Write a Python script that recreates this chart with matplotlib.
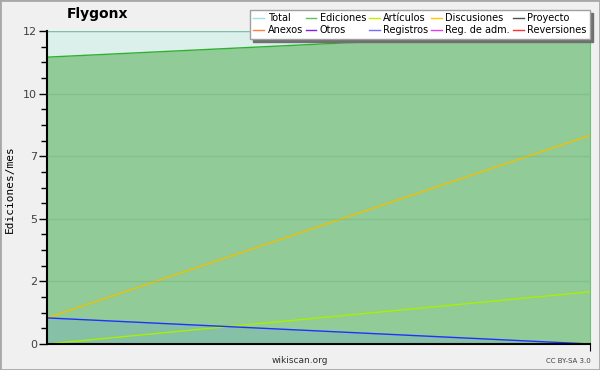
import matplotlib
matplotlib.use("Agg")
import matplotlib.pyplot as plt
from matplotlib.lines import Line2D
from matplotlib.patches import Rectangle

# two monthly points
x = [0, 1]
total = [12, 12]
ediciones = [11, 12]
articulos = [0, 2]
discusiones = [1, 8]
registros = [1, 0]

legend_names = ["Total", "Ediciones", "Artículos", "Discusiones", "Proyecto",
                "Anexos", "Otros", "Registros", "Reg. de adm.", "Reversiones"]
legend_colors = ["#9fe0e0", "#60c060", "#c0f000", "#ffc800", "#505050",
                 "#ff7f40", "#8020e0", "#7070ff", "#e040f0", "#ff3030"]

y_ticks = [0, 2.4, 4.8, 7.2, 9.6, 12]
y_labels = ["0", "2", "5", "7", "10", "12"]

fig = plt.figure(figsize=(6, 3.7), dpi=100, facecolor="#f0f0f0")
fig.patches.append(Rectangle((0, 0), 1, 1, transform=fig.transFigure,
                             fill=False, edgecolor="#a8a8a8", linewidth=2))
ax = fig.add_axes([0.0783, 0.0703, 0.905, 0.8457])
ax.set_facecolor("#f0f0f0")

ax.fill_between(x, 0, total, color="#dbf0ea", linewidth=0)
ax.plot(x, total, color="#80cccc", linewidth=1)
ax.fill_between(x, 0, ediciones, color="#90cb98", linewidth=0)
ax.plot(x, ediciones, color="#30b030", linewidth=1)
ax.fill_between(x, 0, registros, color="#86c0a6", linewidth=0)
ax.plot(x, discusiones, color="#f0c000", linewidth=1)
ax.plot(x, articulos, color="#a8f000", linewidth=1)
ax.plot(x, registros, color="#2030ff", linewidth=1)

ax.set_xlim(0, 1)
ax.set_ylim(0, 12)
ax.set_yticks(y_ticks)
ax.set_yticklabels(y_labels, fontsize=8, color="#404040")
ax.set_yticks([i * 0.6 for i in range(21)], minor=True)
ax.tick_params(axis="y", which="major", length=6, width=1, pad=1)
ax.tick_params(axis="y", which="minor", length=4, width=1)
ax.set_xticks([1])
ax.set_xticklabels([""])
ax.tick_params(axis="x", length=5, direction="out")
ax.grid(axis="y", color="#70b070", alpha=0.35, linewidth=1)
ax.set_axisbelow(False)
ax.spines["top"].set_visible(False)
ax.spines["right"].set_color("#70c080")
ax.spines["left"].set_linewidth(1.5)
ax.spines["bottom"].set_linewidth(1.5)

fig.text(0.016, 0.49, "Ediciones/mes", family="DejaVu Sans Mono", fontsize=8,
         rotation=90, ha="center", va="center")
fig.text(0.162, 0.962, "Flygonx", fontsize=10, fontweight="bold", ha="center", va="center")
fig.text(0.5, 0.027, "wikiscan.org", fontsize=6.5, ha="center", va="center", color="#303030")
fig.text(0.948, 0.024, "CC BY-SA 3.0", fontsize=5, ha="center", va="center", color="#404040")

handles = [Line2D([], [], color=c, linewidth=1) for c in legend_colors]
order = [0, 5, 1, 6, 2, 7, 3, 8, 4, 9]
leg = fig.legend([handles[i] for i in order], [legend_names[i] for i in order],
                 ncol=5, loc="upper right", bbox_to_anchor=(0.983, 0.973),
                 fontsize=7, frameon=True, fancybox=False, shadow={"color": "#707070", "alpha": 1},
                 handlelength=1.1, handletextpad=0.35, columnspacing=0.3,
                 labelspacing=0.2, borderpad=0.35, borderaxespad=0)
leg.get_frame().set_edgecolor("#a0a0a0")
leg.get_frame().set_linewidth(1)

fig.savefig("out.png", dpi=100, facecolor=fig.get_facecolor())
